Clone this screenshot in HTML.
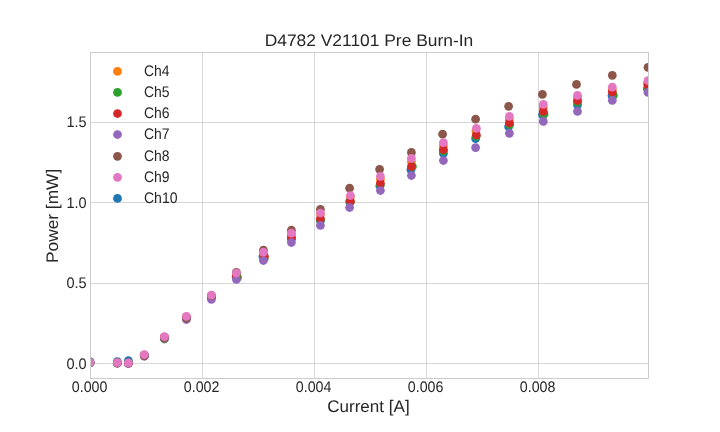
<!DOCTYPE html>
<html lang="en"><head><meta charset="utf-8"><title>D4782 V21101 Pre Burn-In</title>
<style>html,body{margin:0;padding:0;background:#fff;}body{width:720px;height:432px;overflow:hidden;}svg{display:block;will-change:transform;}text{font-family:'Liberation Sans', sans-serif;fill:#262626;text-rendering:geometricPrecision;}</style></head><body>
<svg width="720" height="432" viewBox="0 0 720 432">
<rect x="0" y="0" width="720" height="432" fill="#ffffff"/>
<defs><clipPath id="ax"><rect x="90" y="51.84" width="558" height="326.16"/></clipPath></defs>
<g stroke="#cccccc" stroke-opacity="0.8" stroke-width="1" fill="none" shape-rendering="crispEdges">
<line x1="202.5" y1="52.5" x2="202.5" y2="378.5"/>
<line x1="314.5" y1="52.5" x2="314.5" y2="378.5"/>
<line x1="426.5" y1="52.5" x2="426.5" y2="378.5"/>
<line x1="538.5" y1="52.5" x2="538.5" y2="378.5"/>
<line x1="90.5" y1="363.5" x2="648.5" y2="363.5"/>
<line x1="90.5" y1="283.5" x2="648.5" y2="283.5"/>
<line x1="90.5" y1="202.5" x2="648.5" y2="202.5"/>
<line x1="90.5" y1="122.5" x2="648.5" y2="122.5"/>
</g>
<g clip-path="url(#ax)">
<g fill="#1f77b4">
<circle cx="90.0" cy="361.5" r="4.375"/>
<circle cx="117.3" cy="361.7" r="4.375"/>
<circle cx="128.4" cy="360.7" r="4.375"/>
<circle cx="144.3" cy="355.0" r="4.375"/>
<circle cx="164.4" cy="337.3" r="4.375"/>
<circle cx="186.4" cy="317.6" r="4.375"/>
<circle cx="211.4" cy="297.4" r="4.375"/>
<circle cx="236.4" cy="276.6" r="4.375"/>
<circle cx="262.9" cy="256.6" r="4.375"/>
<circle cx="291.4" cy="239.0" r="4.375"/>
<circle cx="320.4" cy="220.6" r="4.375"/>
<circle cx="349.6" cy="201.6" r="4.375"/>
<circle cx="379.8" cy="186.0" r="4.375"/>
<circle cx="410.9" cy="169.8" r="4.375"/>
<circle cx="443.4" cy="153.5" r="4.375"/>
<circle cx="475.6" cy="138.6" r="4.375"/>
<circle cx="508.6" cy="126.7" r="4.375"/>
<circle cx="542.5" cy="114.8" r="4.375"/>
<circle cx="577.5" cy="105.0" r="4.375"/>
<circle cx="612.0" cy="95.8" r="4.375"/>
<circle cx="647.4" cy="88.8" r="4.375"/>
</g>
<g fill="#ff7f0e">
<circle cx="90.0" cy="362.5" r="4.375"/>
<circle cx="117.3" cy="362.9" r="4.375"/>
<circle cx="128.4" cy="363.0" r="4.375"/>
<circle cx="144.3" cy="355.0" r="4.375"/>
<circle cx="164.4" cy="337.0" r="4.375"/>
<circle cx="186.4" cy="317.0" r="4.375"/>
<circle cx="211.4" cy="295.8" r="4.375"/>
<circle cx="236.4" cy="273.8" r="4.375"/>
<circle cx="263.4" cy="253.0" r="4.375"/>
<circle cx="291.4" cy="234.4" r="4.375"/>
<circle cx="320.4" cy="214.4" r="4.375"/>
<circle cx="350.4" cy="197.0" r="4.375"/>
<circle cx="380.4" cy="179.1" r="4.375"/>
<circle cx="411.4" cy="161.7" r="4.375"/>
<circle cx="443.4" cy="145.7" r="4.375"/>
<circle cx="475.9" cy="131.1" r="4.375"/>
<circle cx="509.4" cy="119.1" r="4.375"/>
<circle cx="543.3" cy="107.3" r="4.375"/>
<circle cx="577.5" cy="97.2" r="4.375"/>
<circle cx="612.3" cy="89.6" r="4.375"/>
<circle cx="647.4" cy="83.2" r="4.375"/>
</g>
<g fill="#2ca02c">
<circle cx="90.0" cy="362.6" r="4.375"/>
<circle cx="117.3" cy="363.0" r="4.375"/>
<circle cx="128.4" cy="363.1" r="4.375"/>
<circle cx="144.3" cy="355.6" r="4.375"/>
<circle cx="164.4" cy="339.0" r="4.375"/>
<circle cx="186.4" cy="318.0" r="4.375"/>
<circle cx="211.4" cy="297.4" r="4.375"/>
<circle cx="237.5" cy="277.4" r="4.375"/>
<circle cx="264.2" cy="258.5" r="4.375"/>
<circle cx="291.4" cy="238.6" r="4.375"/>
<circle cx="320.4" cy="220.2" r="4.375"/>
<circle cx="350.4" cy="202.0" r="4.375"/>
<circle cx="380.4" cy="185.0" r="4.375"/>
<circle cx="412.4" cy="166.6" r="4.375"/>
<circle cx="443.4" cy="150.8" r="4.375"/>
<circle cx="476.1" cy="136.3" r="4.375"/>
<circle cx="509.7" cy="124.6" r="4.375"/>
<circle cx="544.0" cy="114.2" r="4.375"/>
<circle cx="577.5" cy="102.2" r="4.375"/>
<circle cx="613.4" cy="95.5" r="4.375"/>
<circle cx="648.0" cy="88.0" r="4.375"/>
</g>
<g fill="#d62728">
<circle cx="90.0" cy="362.5" r="4.375"/>
<circle cx="117.3" cy="362.9" r="4.375"/>
<circle cx="128.4" cy="363.0" r="4.375"/>
<circle cx="144.3" cy="355.3" r="4.375"/>
<circle cx="164.4" cy="337.4" r="4.375"/>
<circle cx="186.4" cy="317.4" r="4.375"/>
<circle cx="211.4" cy="296.6" r="4.375"/>
<circle cx="236.1" cy="276.8" r="4.375"/>
<circle cx="264.4" cy="256.6" r="4.375"/>
<circle cx="291.4" cy="237.4" r="4.375"/>
<circle cx="320.4" cy="218.8" r="4.375"/>
<circle cx="350.4" cy="201.3" r="4.375"/>
<circle cx="380.4" cy="183.3" r="4.375"/>
<circle cx="411.4" cy="166.5" r="4.375"/>
<circle cx="443.4" cy="149.6" r="4.375"/>
<circle cx="476.4" cy="135.0" r="4.375"/>
<circle cx="509.4" cy="122.8" r="4.375"/>
<circle cx="543.3" cy="111.4" r="4.375"/>
<circle cx="577.5" cy="100.5" r="4.375"/>
<circle cx="612.3" cy="92.2" r="4.375"/>
<circle cx="648.0" cy="85.4" r="4.375"/>
</g>
<g fill="#9467bd">
<circle cx="90.0" cy="363.0" r="4.375"/>
<circle cx="117.3" cy="363.2" r="4.375"/>
<circle cx="128.4" cy="363.5" r="4.375"/>
<circle cx="144.3" cy="356.2" r="4.375"/>
<circle cx="164.4" cy="338.5" r="4.375"/>
<circle cx="186.4" cy="319.5" r="4.375"/>
<circle cx="211.4" cy="299.4" r="4.375"/>
<circle cx="236.4" cy="279.4" r="4.375"/>
<circle cx="263.4" cy="260.5" r="4.375"/>
<circle cx="291.4" cy="242.5" r="4.375"/>
<circle cx="320.4" cy="225.4" r="4.375"/>
<circle cx="349.6" cy="207.5" r="4.375"/>
<circle cx="380.4" cy="190.5" r="4.375"/>
<circle cx="411.4" cy="175.5" r="4.375"/>
<circle cx="443.4" cy="160.5" r="4.375"/>
<circle cx="475.6" cy="147.6" r="4.375"/>
<circle cx="509.4" cy="133.3" r="4.375"/>
<circle cx="543.3" cy="121.4" r="4.375"/>
<circle cx="577.5" cy="111.4" r="4.375"/>
<circle cx="612.3" cy="100.3" r="4.375"/>
<circle cx="648.0" cy="92.4" r="4.375"/>
</g>
<g fill="#8c564b">
<circle cx="90.0" cy="362.6" r="4.375"/>
<circle cx="117.3" cy="363.0" r="4.375"/>
<circle cx="128.4" cy="363.2" r="4.375"/>
<circle cx="144.3" cy="356.0" r="4.375"/>
<circle cx="164.4" cy="338.0" r="4.375"/>
<circle cx="186.4" cy="318.3" r="4.375"/>
<circle cx="211.4" cy="295.6" r="4.375"/>
<circle cx="236.4" cy="272.4" r="4.375"/>
<circle cx="263.4" cy="250.2" r="4.375"/>
<circle cx="291.4" cy="230.2" r="4.375"/>
<circle cx="320.4" cy="209.3" r="4.375"/>
<circle cx="349.6" cy="188.2" r="4.375"/>
<circle cx="379.6" cy="169.3" r="4.375"/>
<circle cx="411.4" cy="152.4" r="4.375"/>
<circle cx="442.6" cy="134.2" r="4.375"/>
<circle cx="475.6" cy="119.2" r="4.375"/>
<circle cx="508.6" cy="106.3" r="4.375"/>
<circle cx="542.4" cy="94.4" r="4.375"/>
<circle cx="576.5" cy="84.4" r="4.375"/>
<circle cx="612.3" cy="75.3" r="4.375"/>
<circle cx="648.0" cy="67.3" r="4.375"/>
</g>
<g fill="#e377c2">
<circle cx="90.0" cy="362.3" r="4.375"/>
<circle cx="117.3" cy="362.7" r="4.375"/>
<circle cx="128.4" cy="362.9" r="4.375"/>
<circle cx="144.3" cy="354.6" r="4.375"/>
<circle cx="164.4" cy="336.6" r="4.375"/>
<circle cx="186.4" cy="316.4" r="4.375"/>
<circle cx="211.4" cy="295.2" r="4.375"/>
<circle cx="236.4" cy="273.0" r="4.375"/>
<circle cx="263.4" cy="252.1" r="4.375"/>
<circle cx="291.4" cy="233.2" r="4.375"/>
<circle cx="320.4" cy="213.0" r="4.375"/>
<circle cx="350.4" cy="195.5" r="4.375"/>
<circle cx="380.4" cy="176.4" r="4.375"/>
<circle cx="411.4" cy="158.3" r="4.375"/>
<circle cx="443.4" cy="142.6" r="4.375"/>
<circle cx="476.4" cy="128.3" r="4.375"/>
<circle cx="509.4" cy="116.4" r="4.375"/>
<circle cx="543.3" cy="104.4" r="4.375"/>
<circle cx="577.5" cy="95.4" r="4.375"/>
<circle cx="612.3" cy="87.2" r="4.375"/>
<circle cx="648.0" cy="80.5" r="4.375"/>
</g>
</g>
<rect x="90.5" y="52.5" width="558.0" height="326.0" fill="none" stroke="#cccccc" stroke-width="1" shape-rendering="crispEdges"/>
<text x="89.65" y="392.0" font-size="15.36" text-anchor="middle" textLength="35.6" lengthAdjust="spacingAndGlyphs">0.000</text>
<text x="201.65" y="392.0" font-size="15.36" text-anchor="middle" textLength="35.6" lengthAdjust="spacingAndGlyphs">0.002</text>
<text x="313.65" y="392.0" font-size="15.36" text-anchor="middle" textLength="35.6" lengthAdjust="spacingAndGlyphs">0.004</text>
<text x="425.65" y="392.0" font-size="15.36" text-anchor="middle" textLength="35.6" lengthAdjust="spacingAndGlyphs">0.006</text>
<text x="537.65" y="392.0" font-size="15.36" text-anchor="middle" textLength="35.6" lengthAdjust="spacingAndGlyphs">0.008</text>
<text x="86.7" y="369" font-size="15.36" text-anchor="end" textLength="20.2" lengthAdjust="spacingAndGlyphs">0.0</text>
<text x="86.7" y="288" font-size="15.36" text-anchor="end" textLength="20.2" lengthAdjust="spacingAndGlyphs">0.5</text>
<text x="86.7" y="208" font-size="15.36" text-anchor="end" textLength="20.2" lengthAdjust="spacingAndGlyphs">1.0</text>
<text x="86.7" y="127" font-size="15.36" text-anchor="end" textLength="20.2" lengthAdjust="spacingAndGlyphs">1.5</text>
<text x="368.4" y="412.0" font-size="16.76" text-anchor="middle" textLength="82.5" lengthAdjust="spacingAndGlyphs">Current [A]</text>
<text transform="translate(58.0 215.9) rotate(-90)" font-size="16.76" text-anchor="middle" textLength="94.3" lengthAdjust="spacingAndGlyphs">Power [mW]</text>
<text x="368.95" y="46.0" font-size="16.76" text-anchor="middle" textLength="208.6" lengthAdjust="spacingAndGlyphs">D4782 V21101 Pre Burn-In</text>
<circle cx="117.5" cy="71.4" r="4.375" fill="#ff7f0e"/>
<text x="143.95" y="76.0" font-size="15.36" textLength="25.6" lengthAdjust="spacingAndGlyphs">Ch4</text>
<circle cx="117.5" cy="92.4" r="4.375" fill="#2ca02c"/>
<text x="143.95" y="97.0" font-size="15.36" textLength="25.6" lengthAdjust="spacingAndGlyphs">Ch5</text>
<circle cx="117.5" cy="113.5" r="4.375" fill="#d62728"/>
<text x="143.95" y="118.0" font-size="15.36" textLength="25.6" lengthAdjust="spacingAndGlyphs">Ch6</text>
<circle cx="117.5" cy="134.5" r="4.375" fill="#9467bd"/>
<text x="143.95" y="139.2" font-size="15.36" textLength="25.6" lengthAdjust="spacingAndGlyphs">Ch7</text>
<circle cx="117.5" cy="156.3" r="4.375" fill="#8c564b"/>
<text x="143.95" y="161.2" font-size="15.36" textLength="25.6" lengthAdjust="spacingAndGlyphs">Ch8</text>
<circle cx="117.5" cy="177.3" r="4.375" fill="#e377c2"/>
<text x="143.95" y="182.0" font-size="15.36" textLength="25.6" lengthAdjust="spacingAndGlyphs">Ch9</text>
<circle cx="117.5" cy="198.4" r="4.375" fill="#1f77b4"/>
<text x="143.95" y="202.9" font-size="15.36" textLength="33.6" lengthAdjust="spacingAndGlyphs">Ch10</text>
</svg></body></html>
